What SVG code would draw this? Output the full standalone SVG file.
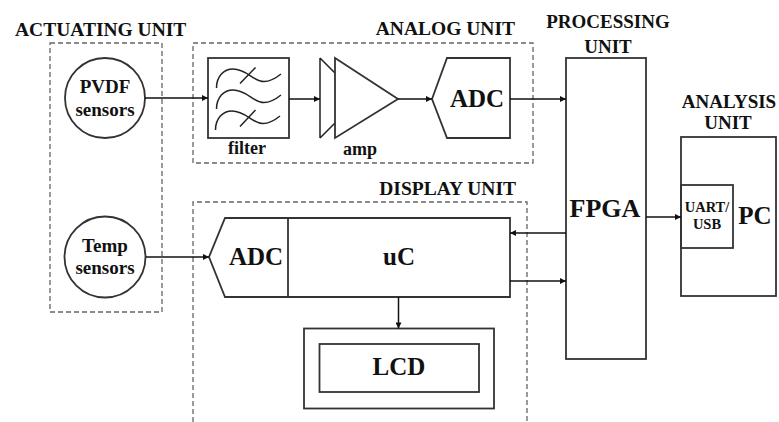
<svg xmlns="http://www.w3.org/2000/svg" width="779" height="422" viewBox="0 0 779 422">
<style>
.h,.s,.b,.m,.u{font-family:"Liberation Serif",serif;font-weight:bold;fill:#111}
.h{font-size:19.5px}
.s{font-size:19px;text-anchor:middle}
.b{font-size:25px;text-anchor:middle}
.m{font-size:18px;text-anchor:middle}
.u{font-size:14.5px;text-anchor:middle}
.dash{fill:none;stroke:#666;stroke-width:1.3;stroke-dasharray:5,3}
.box{fill:none;stroke:#333;stroke-width:1.8}
.ln{fill:none;stroke:#222;stroke-width:1.5}
.con{fill:none;stroke:#111;stroke-width:1.5;marker-end:url(#ah)}
</style>
<defs>
<marker id="ah" viewBox="0 0 10 10" refX="10" refY="5" markerWidth="9" markerHeight="6" orient="auto" markerUnits="userSpaceOnUse"><path d="M0,0 L10,5 L0,10 z" fill="#111"/></marker>
<path id="wave" d="M-16.5,19 C-16.5,7 -9,0 0,0 C14,0 20,12.5 31,12.5 C38,12.5 43,9 48,5" fill="none" stroke="#222" stroke-width="1.5"/>
</defs>
<rect width="779" height="422" fill="#fff"/>

<g id="actuating-unit">
<rect class="dash" x="50" y="43" width="112" height="269"/>
<text class="h" x="15" y="36">ACTUATING UNIT</text>
</g>
<g id="analog-unit">
<rect class="dash" x="193" y="43" width="340" height="120"/>
<text class="h" x="515" y="35" text-anchor="end">ANALOG UNIT</text>
</g>
<g id="display-unit">
<path class="dash" d="M193,430 V202 H527 V430"/>
<text class="h" x="516" y="195" text-anchor="end">DISPLAY UNIT</text>
</g>

<g id="pvdf">
<circle class="box" cx="105" cy="98" r="40"/>
<text class="s" x="105" y="93">PVDF</text>
<text class="s" x="105" y="116">sensors</text>
</g>
<g id="temp">
<circle class="box" cx="105" cy="257" r="40.5"/>
<text class="s" x="105" y="252">Temp</text>
<text class="s" x="105" y="274">sensors</text>
</g>

<g id="filter">
<rect class="box" x="208" y="58" width="81" height="80"/>
<use href="#wave" x="233" y="69"/>
<use href="#wave" x="233" y="90"/>
<use href="#wave" x="232" y="111"/>
<path class="ln" d="M240,83.5 L255.5,67.5 M240,126.5 L255.5,110"/>
<text class="m" x="247" y="154">filter</text>
</g>

<g id="amp">
<path class="ln" d="M320,58 V138 M320,58 L335,73 M320,138 L335,123"/>
<path class="box" d="M335,58 L398,99 L335,138 Z"/>
<text class="m" x="360" y="155">amp</text>
</g>

<g id="adc-analog">
<path class="box" d="M432,99 L447,58 H510 V138 H447 Z"/>
<text class="b" x="477" y="107">ADC</text>
</g>

<g id="fpga">
<rect class="box" x="566" y="58" width="80" height="301"/>
<text class="h" x="608" y="28" text-anchor="middle" style="font-size:19px">PROCESSING</text>
<text class="h" x="608" y="52.5" text-anchor="middle" style="font-size:19px">UNIT</text>
<text class="b" x="605" y="217" style="font-size:26px">FPGA</text>
</g>

<g id="analysis">
<rect class="box" x="681" y="137" width="95" height="159"/>
<text class="h" x="729" y="108" text-anchor="middle" style="font-size:19px">ANALYSIS</text>
<text class="h" x="728" y="129" text-anchor="middle" style="font-size:19px">UNIT</text>
<rect class="box" x="681" y="185" width="52" height="63"/>
<text class="u" x="707" y="212">UART/</text>
<text class="u" x="707" y="228.5">USB</text>
<text class="b" x="755" y="223.5">PC</text>
</g>

<g id="uc">
<path class="box" d="M209,257 L225,218 H510 V297 H225 Z"/>
<path class="box" d="M288,218 V297"/>
<text class="b" x="256" y="265">ADC</text>
<text class="b" x="399" y="265">uC</text>
</g>

<g id="lcd">
<rect class="box" x="304" y="328.5" width="190" height="80"/>
<rect class="box" x="319.5" y="344" width="159.5" height="48"/>
<text class="b" x="399" y="375">LCD</text>
</g>

<g id="connectors">
<path class="con" d="M145,98 H208"/>
<path class="con" d="M289,99 H320"/>
<path class="con" d="M398,99 H432"/>
<path class="con" d="M510,99 H566"/>
<path class="con" d="M146,257 H209"/>
<path class="con" d="M566,233 H510"/>
<path class="con" d="M510,281 H566"/>
<path class="con" d="M398.5,297 V328.5"/>
<path class="con" d="M646,217 H681"/>
</g>
</svg>
